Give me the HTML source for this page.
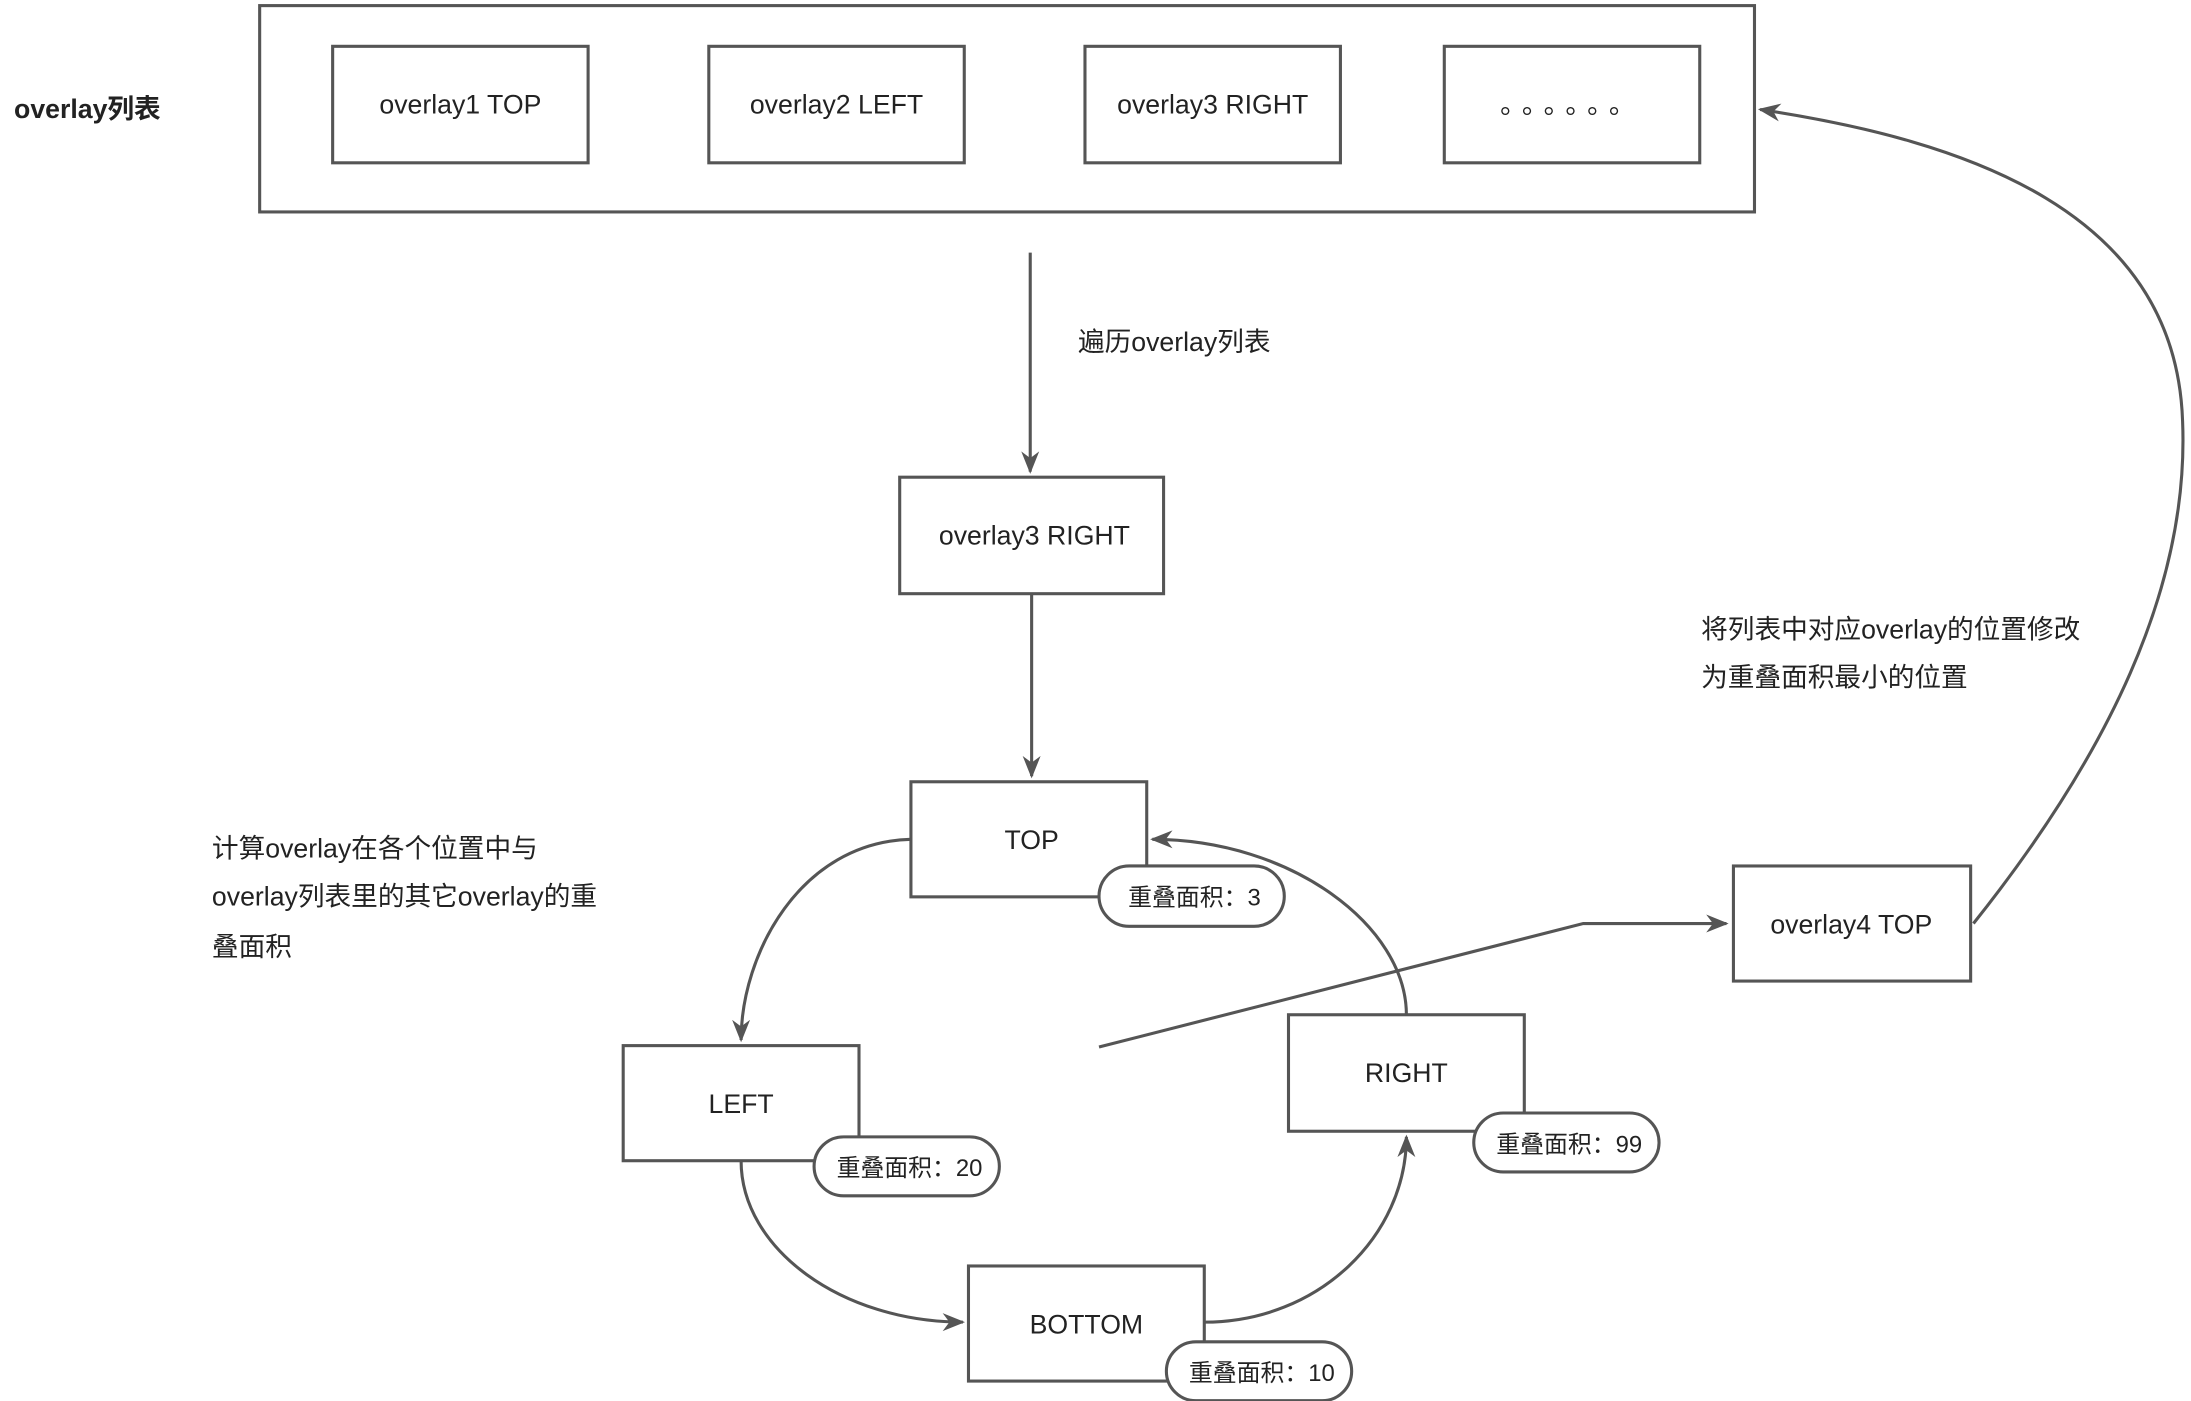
<!DOCTYPE html>
<html><head><meta charset="utf-8">
<style>
html,body{margin:0;padding:0;background:#fff;}
svg{display:block;}
text{font-family:"Liberation Sans","Noto Sans CJK SC",sans-serif;fill:#222;}
</style></head>
<body>
<svg width="2191" height="1401" viewBox="0 0 1561 998.2" preserveAspectRatio="none" xmlns="http://www.w3.org/2000/svg">
<defs>
<marker id="a" viewBox="0 0 10 10" refX="9" refY="5" markerWidth="8" markerHeight="8" markerUnits="userSpaceOnUse" orient="auto">
<path d="M0,0 L10,5 L0,10 L3,5 z" fill="#555"/>
</marker>
<marker id="b" viewBox="0 0 10 10" refX="9" refY="5" markerWidth="16" markerHeight="16" markerUnits="userSpaceOnUse" orient="auto">
<path d="M0,1 L10,5 L0,9 L3,5 z" fill="#555"/>
</marker>
</defs>
<g fill="none" stroke="#555" stroke-width="2.2">
<rect x="185" y="4" width="1065" height="147" fill="#fff"/>
<rect x="237" y="33" width="182" height="83"/>
<rect x="505" y="33" width="182" height="83"/>
<rect x="773" y="33" width="182" height="83"/>
<rect x="1029" y="33" width="182" height="83"/>
<path d="M734,180 L734,336" marker-end="url(#b)"/>
<rect x="641" y="340" width="188" height="83"/>
<path d="M735,423 L735,553" marker-end="url(#b)"/>
<rect x="649" y="557" width="168" height="82" fill="#fff"/>
<rect x="444" y="745" width="168" height="82" fill="#fff"/>
<rect x="690" y="902" width="168" height="82" fill="#fff"/>
<rect x="918" y="723" width="168" height="83" fill="#fff"/>
<rect x="1235" y="617" width="169" height="82"/>
<path d="M649,598 C570,600 528,680 528,741" marker-end="url(#b)"/>
<path d="M528,827 C528,890 600,942 686,942" marker-end="url(#b)"/>
<path d="M858,942 C940,942 1002,880 1002,810" marker-end="url(#b)"/>
<path d="M1002,723 C1002,660 920,598 821,598" marker-end="url(#b)"/>
<path d="M783,746 L1128,658 L1230,658" marker-end="url(#b)"/>
<path d="M1406,658 C1500,540 1560,420 1555,300 C1550,150 1400,100 1254,78" marker-end="url(#b)"/>
<rect x="783" y="617" width="132" height="43" rx="21.5" fill="#fff"/>
<rect x="580" y="810" width="132" height="42" rx="21" fill="#fff"/>
<rect x="831" y="956" width="132" height="42" rx="21" fill="#fff"/>
<rect x="1050" y="793" width="132" height="42" rx="21" fill="#fff"/>
</g>
<g font-size="19" text-anchor="middle">
<text x="328" y="81">overlay1 TOP</text>
<text x="596" y="81">overlay2 LEFT</text>
<text x="864" y="81">overlay3 RIGHT</text>
<text x="1120" y="81" letter-spacing="6">。。。。。。</text>
<text x="737" y="388">overlay3 RIGHT</text>
<text x="735" y="605">TOP</text>
<text x="528" y="793">LEFT</text>
<text x="774" y="950">BOTTOM</text>
<text x="1002" y="771">RIGHT</text>
<text x="1319" y="665">overlay4 TOP</text>
</g>
<g font-size="17" text-anchor="middle">
<text x="851" y="645">重叠面积：3</text>
<text x="648" y="838">重叠面积：20</text>
<text x="899" y="984">重叠面积：10</text>
<text x="1118" y="821">重叠面积：99</text>
</g>
<g font-size="19">
<text x="10" y="84" font-weight="bold">overlay列表</text>
<text x="768" y="250">遍历overlay列表</text>
<text x="1212" y="455">将列表中对应overlay的位置修改</text>
<text x="1212" y="489">为重叠面积最小的位置</text>
<text x="151" y="611">计算overlay在各个位置中与</text>
<text x="151" y="645">overlay列表里的其它overlay的重</text>
<text x="151" y="681">叠面积</text>
</g>
</svg>
</body></html>
